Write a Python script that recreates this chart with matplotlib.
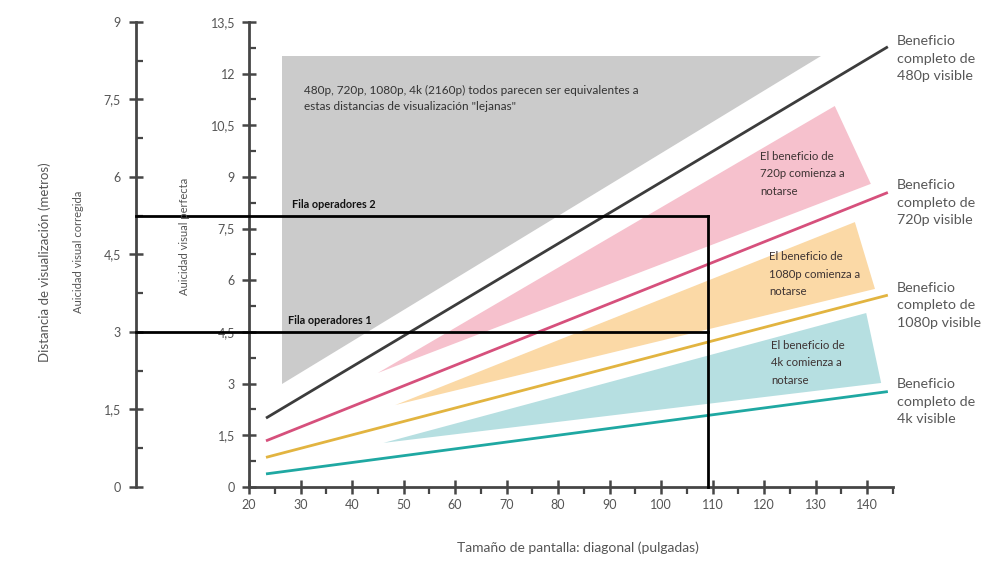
import matplotlib
matplotlib.use('Agg')
import matplotlib.pyplot as plt
from matplotlib.ticker import MultipleLocator, FuncFormatter

plt.rcParams['font.family'] = ['Lato', 'DejaVu Sans']

# ---------------- data ----------------
line_x = [23.3, 144.0]                     # screen size range of the lines (in)
res_names = ['480p', '720p', '1080p', '4k']
line_y_start = [2.0, 1.34, 0.86, 0.38]     # inner-axis units
line_y_end = [12.78, 8.55, 5.57, 2.77]
line_colors = ['#3c3c3c', '#d6507c', '#e2b440', '#1fa8a2']

gray_x = [26.4, 26.4, 131.0]
gray_y = [3.0, 12.5, 12.5]
pink_x = [45.0, 133.7, 140.7]
pink_y = [3.31, 11.06, 8.80]
yellow_x = [48.4, 137.6, 141.5]
yellow_y = [2.38, 7.69, 5.75]
teal_x = [46.1, 139.8, 142.7]
teal_y = [1.28, 5.05, 3.02]
band_colors = ['#cbcbcb', '#f6c1cd', '#fbd9a6', '#b6dfe1']

rows_m = [3.0, 5.25]                       # viewing distance of operator rows (m)
row_labels = ['Fila operadores 1', 'Fila operadores 2']
row_label_x = [27.5, 28.3]
screen_in = 109

gray_text = ('480p, 720p, 1080p, 4k (2160p) todos parecen ser equivalentes a\n'
             'estas distancias de visualización "lejanas"')
band_texts = ['El beneficio de\n720p comienza a\nnotarse',
              'El beneficio de\n1080p comienza a\nnotarse',
              'El beneficio de\n4k comienza a\nnotarse']
band_text_pos = [(119.2, 9.09), (121.0, 6.18), (121.4, 3.60)]
right_texts = ['Beneficio\ncompleto de\n480p visible',
               'Beneficio\ncompleto de\n720p visible',
               'Beneficio\ncompleto de\n1080p visible',
               'Beneficio\ncompleto de\n4k visible']
right_text_y = [12.43, 8.25, 5.28, 2.47]

# ---------------- figure ----------------
W, H = 1000, 563
fig = plt.figure(figsize=(W / 100, H / 100), dpi=100)
ax = fig.add_axes([0.249, 0.135, 0.644, 0.826])
ax.set_xlim(20, 145)
ax.set_ylim(0, 13.5)

fmt = FuncFormatter(lambda v, p: f"{v:g}".replace('.', ','))
axis_col = '#464646'
lab_col = '#555555'

for s in ['top', 'right']:
    ax.spines[s].set_visible(False)
for s in ['left', 'bottom']:
    ax.spines[s].set_color(axis_col)
    ax.spines[s].set_linewidth(2)

ax.xaxis.set_major_locator(MultipleLocator(10))
ax.xaxis.set_minor_locator(MultipleLocator(5))
ax.yaxis.set_major_locator(MultipleLocator(1.5))
ax.yaxis.set_minor_locator(MultipleLocator(0.75))
ax.xaxis.set_major_formatter(fmt)
ax.yaxis.set_major_formatter(fmt)
ax.tick_params(axis='both', which='major', direction='inout', length=10,
               width=1.8, color=axis_col, labelcolor=lab_col, labelsize=9)
ax.tick_params(axis='x', which='minor', direction='out', length=5,
               width=1.6, color=axis_col)
ax.tick_params(axis='y', which='minor', direction='in', length=5,
               width=1.6, color=axis_col)
ax.tick_params(axis='y', which='major', pad=5)

# bands
for xs, ys, c in zip([gray_x, pink_x, yellow_x, teal_x],
                     [gray_y, pink_y, yellow_y, teal_y], band_colors):
    ax.fill(xs, ys, color=c, lw=0, zorder=1)

# lines
for y0, y1, c in zip(line_y_start, line_y_end, line_colors):
    ax.plot(line_x, [y0, y1], color=c, lw=2, solid_capstyle='butt',
            zorder=3, clip_on=False)

# texts
ax.text(30.6, 11.28, gray_text, ha='left', va='center', fontsize=8.5,
        color='#333333', linespacing=1.6, zorder=4)
for (tx, ty), t in zip(band_text_pos, band_texts):
    ax.text(tx, ty, t, ha='left', va='center', fontsize=8.2,
            color='#3d3333', linespacing=1.7, zorder=4)
for ty, t in zip(right_text_y, right_texts):
    ax.text(145.7, ty, t, ha='left', va='center', fontsize=10.3,
            color='#585858', linespacing=1.55, clip_on=False)

# outer axis (metres)
outer_px = 113
ax2 = ax.twinx()
ax2.set_ylim(0, 9)
ax2.yaxis.tick_left()
ax2.yaxis.set_label_position('left')
for s in ['top', 'right', 'bottom']:
    ax2.spines[s].set_visible(False)
ax2.spines['left'].set_position(('outward', outer_px * 72 / 100))
ax2.spines['left'].set_color(axis_col)
ax2.spines['left'].set_linewidth(2)
ax2.yaxis.set_major_locator(MultipleLocator(1.5))
ax2.yaxis.set_minor_locator(MultipleLocator(0.75))
ax2.yaxis.set_major_formatter(fmt)
ax2.tick_params(axis='y', which='major', direction='inout', length=10,
                width=1.8, color=axis_col, labelcolor=lab_col, labelsize=9,
                pad=6)
ax2.tick_params(axis='y', which='minor', direction='in', length=5,
                width=1.6, color=axis_col)

# operator rows
px_per_in = W * 0.644 / (ax.get_xlim()[1] - ax.get_xlim()[0])
x_outer = ax.get_xlim()[0] - outer_px / px_per_in
for r, lab, lx in zip(rows_m, row_labels, row_label_x):
    ax2.plot([x_outer, screen_in], [r, r], color='black', lw=2,
             clip_on=False, zorder=5)
    ax2.annotate(lab, xy=(lx, r), xytext=(0, 8), textcoords='offset points',
                 ha='left', va='center', fontsize=7.8, fontweight='bold',
                 color='#111111')
ax2.plot([screen_in, screen_in], [0, max(rows_m)], color='black', lw=2,
         clip_on=False, zorder=5)

# axis labels
fig.text(578 / W, 1 - 548 / H, 'Tamaño de pantalla: diagonal (pulgadas)',
         ha='center', va='center', fontsize=10, color=lab_col)
fig.text(45 / W, 1 - 262 / H, 'Distancia de visualización (metros)',
         ha='center', va='center', rotation=90, fontsize=9.5, color=lab_col)
fig.text(78 / W, 1 - 252 / H, 'Auicidad visual corregida',
         ha='center', va='center', rotation=90, fontsize=8, color=lab_col)
fig.text(185 / W, 1 - 236 / H, 'Auicidad visual perfecta',
         ha='center', va='center', rotation=90, fontsize=8, color=lab_col)

fig.savefig('out.png', dpi=100)
